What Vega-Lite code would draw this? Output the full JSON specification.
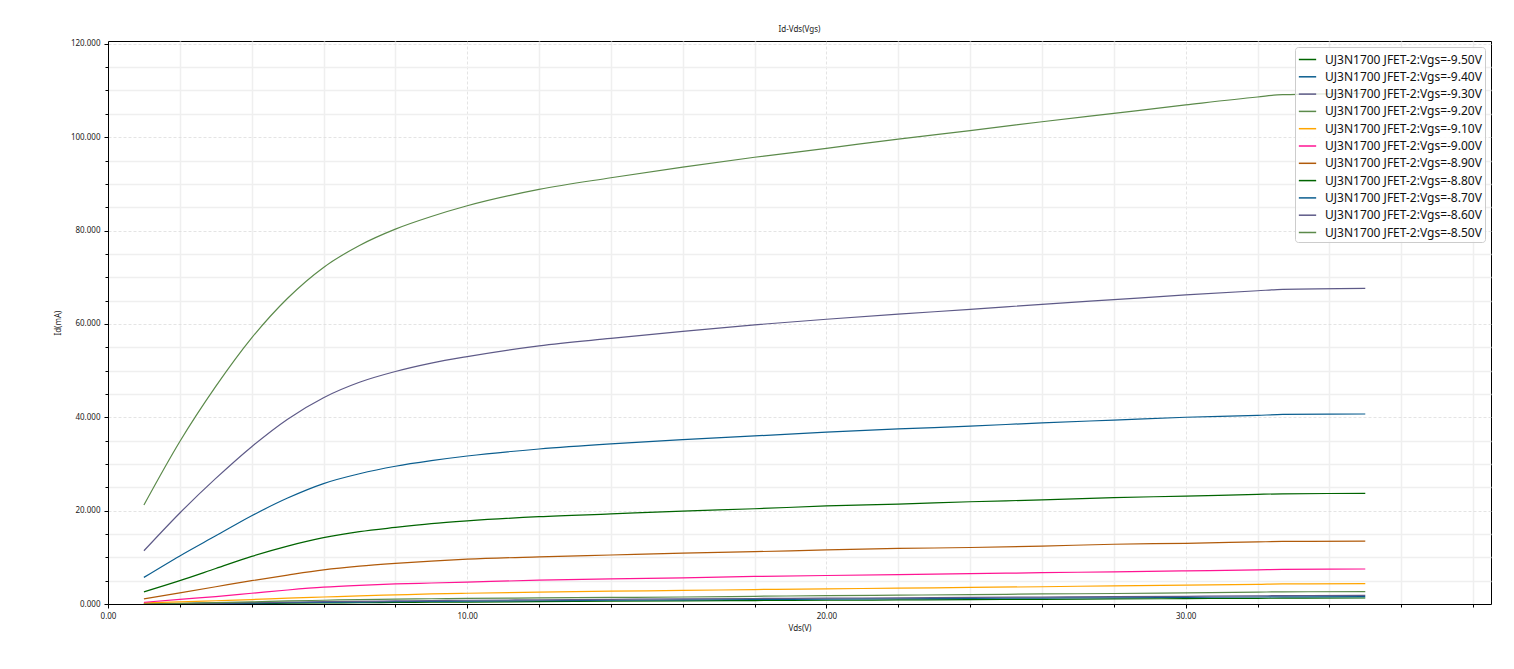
{
"$schema":"https://vega.github.io/schema/vega-lite/v6.json",
"autosize":{"type":"none"},
"padding":{"left":108,"top":41,"right":23,"bottom":65},
"width":1383,"height":563,
"background":"white",
"title":{"text":"Id-Vds(Vgs)","fontSize":8,"fontWeight":"normal","font":"Noto Sans","color":"#222","offset":6},
"config":{"view":{"stroke":"black","strokeWidth":1},"font":"Noto Sans"},
"data":{"values":[
{"v":"-9.50","x":1,"y":0.01},{"v":"-9.50","x":2,"y":0.04},{"v":"-9.50","x":3,"y":0.08},{"v":"-9.50","x":4,"y":0.12},{"v":"-9.50","x":5,"y":0.17},{"v":"-9.50","x":6,"y":0.22},{"v":"-9.50","x":7,"y":0.27},{"v":"-9.50","x":8,"y":0.32},{"v":"-9.50","x":9,"y":0.37},{"v":"-9.50","x":10,"y":0.42},{"v":"-9.50","x":12,"y":0.5},{"v":"-9.50","x":14,"y":0.6},{"v":"-9.50","x":16,"y":0.68},{"v":"-9.50","x":18,"y":0.74},{"v":"-9.50","x":20,"y":0.8},{"v":"-9.50","x":22,"y":0.87},{"v":"-9.50","x":24,"y":0.94},{"v":"-9.50","x":26,"y":1.0},{"v":"-9.50","x":28,"y":1.08},{"v":"-9.50","x":30,"y":1.15},{"v":"-9.50","x":32,"y":1.22},{"v":"-9.50","x":32.7,"y":1.25},{"v":"-9.50","x":35,"y":1.29},
{"v":"-9.40","x":1,"y":0.02},{"v":"-9.40","x":2,"y":0.07},{"v":"-9.40","x":3,"y":0.13},{"v":"-9.40","x":4,"y":0.2},{"v":"-9.40","x":5,"y":0.28},{"v":"-9.40","x":6,"y":0.35},{"v":"-9.40","x":7,"y":0.42},{"v":"-9.40","x":8,"y":0.5},{"v":"-9.40","x":9,"y":0.55},{"v":"-9.40","x":10,"y":0.6},{"v":"-9.40","x":12,"y":0.7},{"v":"-9.40","x":14,"y":0.8},{"v":"-9.40","x":16,"y":0.88},{"v":"-9.40","x":18,"y":0.96},{"v":"-9.40","x":20,"y":1.05},{"v":"-9.40","x":22,"y":1.12},{"v":"-9.40","x":24,"y":1.2},{"v":"-9.40","x":26,"y":1.27},{"v":"-9.40","x":28,"y":1.34},{"v":"-9.40","x":30,"y":1.42},{"v":"-9.40","x":32,"y":1.5},{"v":"-9.40","x":32.7,"y":1.53},{"v":"-9.40","x":35,"y":1.57},
{"v":"-9.30","x":1,"y":0.03},{"v":"-9.30","x":2,"y":0.1},{"v":"-9.30","x":3,"y":0.2},{"v":"-9.30","x":4,"y":0.3},{"v":"-9.30","x":5,"y":0.4},{"v":"-9.30","x":6,"y":0.5},{"v":"-9.30","x":7,"y":0.58},{"v":"-9.30","x":8,"y":0.65},{"v":"-9.30","x":9,"y":0.72},{"v":"-9.30","x":10,"y":0.8},{"v":"-9.30","x":12,"y":0.9},{"v":"-9.30","x":14,"y":1.0},{"v":"-9.30","x":16,"y":1.1},{"v":"-9.30","x":18,"y":1.18},{"v":"-9.30","x":20,"y":1.25},{"v":"-9.30","x":22,"y":1.33},{"v":"-9.30","x":24,"y":1.4},{"v":"-9.30","x":26,"y":1.48},{"v":"-9.30","x":28,"y":1.56},{"v":"-9.30","x":30,"y":1.65},{"v":"-9.30","x":32,"y":1.75},{"v":"-9.30","x":32.7,"y":1.8},{"v":"-9.30","x":35,"y":1.85},
{"v":"-9.20","x":1,"y":0.05},{"v":"-9.20","x":2,"y":0.15},{"v":"-9.20","x":3,"y":0.3},{"v":"-9.20","x":4,"y":0.45},{"v":"-9.20","x":5,"y":0.65},{"v":"-9.20","x":6,"y":0.8},{"v":"-9.20","x":7,"y":0.95},{"v":"-9.20","x":8,"y":1.05},{"v":"-9.20","x":9,"y":1.12},{"v":"-9.20","x":10,"y":1.2},{"v":"-9.20","x":12,"y":1.3},{"v":"-9.20","x":14,"y":1.4},{"v":"-9.20","x":16,"y":1.5},{"v":"-9.20","x":18,"y":1.65},{"v":"-9.20","x":20,"y":1.8},{"v":"-9.20","x":22,"y":1.9},{"v":"-9.20","x":24,"y":2.0},{"v":"-9.20","x":26,"y":2.15},{"v":"-9.20","x":28,"y":2.25},{"v":"-9.20","x":30,"y":2.4},{"v":"-9.20","x":32,"y":2.55},{"v":"-9.20","x":32.7,"y":2.6},{"v":"-9.20","x":35,"y":2.65},
{"v":"-9.10","x":1,"y":0.25},{"v":"-9.10","x":2,"y":0.45},{"v":"-9.10","x":3,"y":0.7},{"v":"-9.10","x":4,"y":0.95},{"v":"-9.10","x":5,"y":1.25},{"v":"-9.10","x":6,"y":1.5},{"v":"-9.10","x":7,"y":1.75},{"v":"-9.10","x":8,"y":1.95},{"v":"-9.10","x":9,"y":2.15},{"v":"-9.10","x":10,"y":2.3},{"v":"-9.10","x":12,"y":2.55},{"v":"-9.10","x":14,"y":2.75},{"v":"-9.10","x":16,"y":2.9},{"v":"-9.10","x":18,"y":3.1},{"v":"-9.10","x":20,"y":3.25},{"v":"-9.10","x":22,"y":3.4},{"v":"-9.10","x":24,"y":3.55},{"v":"-9.10","x":26,"y":3.7},{"v":"-9.10","x":28,"y":3.9},{"v":"-9.10","x":30,"y":4.05},{"v":"-9.10","x":32,"y":4.2},{"v":"-9.10","x":32.7,"y":4.3},{"v":"-9.10","x":35,"y":4.35},
{"v":"-9.00","x":1,"y":0.36},{"v":"-9.00","x":2,"y":1.0},{"v":"-9.00","x":3,"y":1.6},{"v":"-9.00","x":4,"y":2.3},{"v":"-9.00","x":5,"y":3.0},{"v":"-9.00","x":6,"y":3.6},{"v":"-9.00","x":7,"y":4.0},{"v":"-9.00","x":8,"y":4.3},{"v":"-9.00","x":9,"y":4.5},{"v":"-9.00","x":10,"y":4.7},{"v":"-9.00","x":12,"y":5.1},{"v":"-9.00","x":14,"y":5.4},{"v":"-9.00","x":16,"y":5.6},{"v":"-9.00","x":18,"y":5.9},{"v":"-9.00","x":20,"y":6.1},{"v":"-9.00","x":22,"y":6.3},{"v":"-9.00","x":24,"y":6.5},{"v":"-9.00","x":26,"y":6.7},{"v":"-9.00","x":28,"y":6.9},{"v":"-9.00","x":30,"y":7.1},{"v":"-9.00","x":32,"y":7.3},{"v":"-9.00","x":32.7,"y":7.4},{"v":"-9.00","x":35,"y":7.5},
{"v":"-8.90","x":1,"y":1.1},{"v":"-8.90","x":2,"y":2.4},{"v":"-8.90","x":3,"y":3.7},{"v":"-8.90","x":4,"y":5.0},{"v":"-8.90","x":5,"y":6.2},{"v":"-8.90","x":6,"y":7.3},{"v":"-8.90","x":7,"y":8.1},{"v":"-8.90","x":8,"y":8.7},{"v":"-8.90","x":9,"y":9.2},{"v":"-8.90","x":10,"y":9.6},{"v":"-8.90","x":12,"y":10.1},{"v":"-8.90","x":14,"y":10.5},{"v":"-8.90","x":16,"y":10.9},{"v":"-8.90","x":18,"y":11.2},{"v":"-8.90","x":20,"y":11.6},{"v":"-8.90","x":22,"y":11.9},{"v":"-8.90","x":24,"y":12.1},{"v":"-8.90","x":26,"y":12.4},{"v":"-8.90","x":28,"y":12.8},{"v":"-8.90","x":30,"y":13.0},{"v":"-8.90","x":32,"y":13.3},{"v":"-8.90","x":32.7,"y":13.4},{"v":"-8.90","x":35,"y":13.45},
{"v":"-8.80","x":1,"y":2.6},{"v":"-8.80","x":2,"y":5.0},{"v":"-8.80","x":3,"y":7.6},{"v":"-8.80","x":4,"y":10.2},{"v":"-8.80","x":5,"y":12.4},{"v":"-8.80","x":6,"y":14.2},{"v":"-8.80","x":7,"y":15.5},{"v":"-8.80","x":8,"y":16.4},{"v":"-8.80","x":9,"y":17.2},{"v":"-8.80","x":10,"y":17.8},{"v":"-8.80","x":12,"y":18.7},{"v":"-8.80","x":14,"y":19.3},{"v":"-8.80","x":16,"y":19.9},{"v":"-8.80","x":18,"y":20.4},{"v":"-8.80","x":20,"y":21.0},{"v":"-8.80","x":22,"y":21.4},{"v":"-8.80","x":24,"y":21.9},{"v":"-8.80","x":26,"y":22.3},{"v":"-8.80","x":28,"y":22.8},{"v":"-8.80","x":30,"y":23.1},{"v":"-8.80","x":32,"y":23.5},{"v":"-8.80","x":32.7,"y":23.6},{"v":"-8.80","x":35,"y":23.7},
{"v":"-8.70","x":1,"y":5.7},{"v":"-8.70","x":2,"y":10.3},{"v":"-8.70","x":3,"y":14.6},{"v":"-8.70","x":4,"y":18.9},{"v":"-8.70","x":5,"y":22.7},{"v":"-8.70","x":6,"y":25.8},{"v":"-8.70","x":7,"y":27.9},{"v":"-8.70","x":8,"y":29.5},{"v":"-8.70","x":9,"y":30.7},{"v":"-8.70","x":10,"y":31.7},{"v":"-8.70","x":12,"y":33.2},{"v":"-8.70","x":14,"y":34.3},{"v":"-8.70","x":16,"y":35.2},{"v":"-8.70","x":18,"y":36.0},{"v":"-8.70","x":20,"y":36.8},{"v":"-8.70","x":22,"y":37.5},{"v":"-8.70","x":24,"y":38.1},{"v":"-8.70","x":26,"y":38.8},{"v":"-8.70","x":28,"y":39.4},{"v":"-8.70","x":30,"y":40.0},{"v":"-8.70","x":32,"y":40.4},{"v":"-8.70","x":32.7,"y":40.6},{"v":"-8.70","x":35,"y":40.7},
{"v":"-8.60","x":1,"y":11.4},{"v":"-8.60","x":2,"y":19.5},{"v":"-8.60","x":3,"y":26.9},{"v":"-8.60","x":4,"y":33.7},{"v":"-8.60","x":5,"y":39.6},{"v":"-8.60","x":6,"y":44.2},{"v":"-8.60","x":7,"y":47.5},{"v":"-8.60","x":8,"y":49.8},{"v":"-8.60","x":9,"y":51.6},{"v":"-8.60","x":10,"y":53.0},{"v":"-8.60","x":12,"y":55.3},{"v":"-8.60","x":14,"y":56.9},{"v":"-8.60","x":16,"y":58.4},{"v":"-8.60","x":18,"y":59.8},{"v":"-8.60","x":20,"y":61.0},{"v":"-8.60","x":22,"y":62.1},{"v":"-8.60","x":24,"y":63.1},{"v":"-8.60","x":26,"y":64.2},{"v":"-8.60","x":28,"y":65.2},{"v":"-8.60","x":30,"y":66.2},{"v":"-8.60","x":32,"y":67.1},{"v":"-8.60","x":32.7,"y":67.4},{"v":"-8.60","x":35,"y":67.6},
{"v":"-8.50","x":1,"y":21.2},{"v":"-8.50","x":2,"y":34.8},{"v":"-8.50","x":3,"y":46.6},{"v":"-8.50","x":4,"y":57.0},{"v":"-8.50","x":5,"y":65.5},{"v":"-8.50","x":6,"y":72.1},{"v":"-8.50","x":7,"y":76.8},{"v":"-8.50","x":8,"y":80.3},{"v":"-8.50","x":9,"y":83.0},{"v":"-8.50","x":10,"y":85.3},{"v":"-8.50","x":12,"y":88.8},{"v":"-8.50","x":14,"y":91.3},{"v":"-8.50","x":16,"y":93.6},{"v":"-8.50","x":18,"y":95.7},{"v":"-8.50","x":20,"y":97.6},{"v":"-8.50","x":22,"y":99.6},{"v":"-8.50","x":24,"y":101.4},{"v":"-8.50","x":26,"y":103.3},{"v":"-8.50","x":28,"y":105.1},{"v":"-8.50","x":30,"y":106.9},{"v":"-8.50","x":32,"y":108.6},{"v":"-8.50","x":32.7,"y":109.1},{"v":"-8.50","x":35,"y":109.4}
]},
"mark":{"type":"line","interpolate":"monotone","strokeWidth":1.2,"clip":true},
"encoding":{
"x":{"field":"x","type":"quantitative","title":"Vds(V)",
 "scale":{"domain":[0,38.5],"nice":false,"zero":false},
 "axis":{"values":[0,2,4,6,8,10,12,14,16,18,20,22,24,26,28,30,32,34,36,38],
  "labelExpr":"datum.value % 10 === 0 ? format(datum.value, '.2f') : ''",
  "labelFlush":false,
  "labelFontSize":8,"labelColor":"#222","labelPadding":4,"labelFont":"Noto Sans",
  "titleFontSize":8,"titleFontWeight":"normal","titleColor":"#222","titlePadding":4,"titleFont":"Noto Sans",
  "domainColor":"black","tickColor":"black",
  "tickSize":{"condition":{"test":"datum.value % 10 === 0","value":4},"value":3},
  "grid":true,
  "gridColor":{"condition":{"test":"datum.value % 10 === 0","value":"#dddddd"},"value":"#efefef"},
  "gridDash":{"condition":{"test":"datum.value % 10 === 0","value":[3,2]},"value":[]},
  "gridWidth":{"condition":{"test":"datum.value % 10 === 0","value":0.8},"value":1.5}}},
"y":{"field":"y","type":"quantitative","title":"Id(mA)",
 "scale":{"domain":[0,120.6],"nice":false,"zero":false},
 "axis":{"values":[0,5,10,15,20,25,30,35,40,45,50,55,60,65,70,75,80,85,90,95,100,105,110,115,120],
  "labelExpr":"datum.value % 20 === 0 ? format(datum.value, '.3f') : ''",
  "labelFlush":false,
  "labelFontSize":8,"labelColor":"#222","labelPadding":4,"labelFont":"Noto Sans",
  "titleFontSize":8,"titleFontWeight":"normal","titleColor":"#222","titlePadding":8,"titleFont":"Noto Sans",
  "domainColor":"black","tickColor":"black",
  "tickSize":{"condition":{"test":"datum.value % 20 === 0","value":4},"value":3},
  "grid":true,
  "gridColor":{"condition":{"test":"datum.value % 20 === 0","value":"#dddddd"},"value":"#efefef"},
  "gridDash":{"condition":{"test":"datum.value % 20 === 0","value":[3,2]},"value":[]},
  "gridWidth":{"condition":{"test":"datum.value % 20 === 0","value":0.8},"value":1.5}}},
"color":{"field":"v","type":"nominal",
 "scale":{"domain":["-9.50","-9.40","-9.30","-9.20","-9.10","-9.00","-8.90","-8.80","-8.70","-8.60","-8.50"],
  "range":["#006400","#0b5e8f","#5e5a88","#5b8a4a","#ffa500","#ff1493","#b05a0a","#006400","#0b5e8f","#5e5a88","#5b8a4a"]},
 "legend":{"title":null,"orient":"top-right","offset":6,
  "labelExpr":"'UJ3N1700 JFET-2:Vgs=' + datum.label + 'V'",
  "labelFont":"Noto Sans","labelFontSize":12,"labelColor":"#111","labelLimit":400,
  "symbolType":"stroke","symbolSize":300,"symbolStrokeWidth":1.5,
  "rowPadding":1.3,"padding":3,"fillColor":"rgba(255,255,255,0.8)","strokeColor":"#cccccc","cornerRadius":3,
  "labelOffset":8}}
}
}
